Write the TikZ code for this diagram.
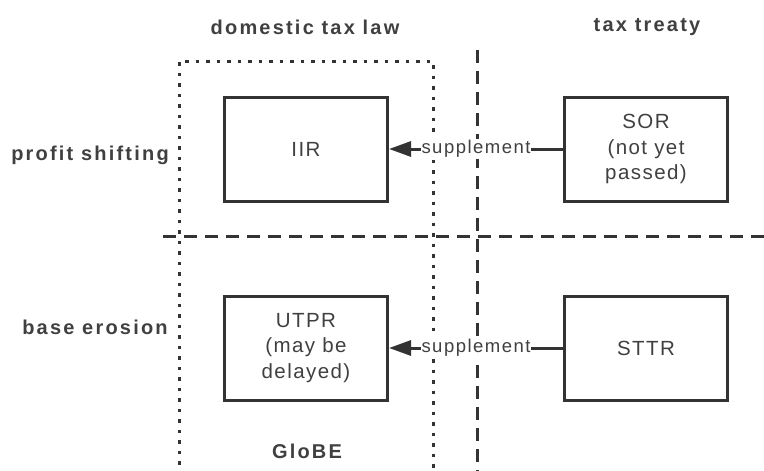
\documentclass[tikz,border=0pt]{standalone}
\usepackage{fontspec}
\setmainfont{Liberation Sans}[LetterSpace=7]
\newfontfamily\hdfont{Liberation Sans}[LetterSpace=11]
\newfontfamily\spfont{Liberation Sans}[LetterSpace=8]
\usetikzlibrary{arrows.meta}
\definecolor{ln}{HTML}{333333}
\definecolor{tx}{HTML}{404040}
\tikzset{
  box/.style={draw=ln, line width=3pt, minimum width=163pt, minimum height=104pt, align=center, text=tx, font=\fontsize{20.5}{25.5}\selectfont, inner sep=0pt},
  head/.style={text=tx, font=\hdfont\fontsize{20}{24}\selectfont\bfseries, inner sep=0pt},
  dottedline/.style={draw=ln, line width=3pt, dash pattern=on 3.5pt off 7pt},
  dashedline/.style={draw=ln, line width=3pt, dash pattern=on 13pt off 8pt},
  supp/.style={draw=ln, line width=3pt, -{Triangle[length=22pt,width=15pt]}},
  supplabel/.style={fill=white, text=tx, font=\spfont\fontsize{18.5}{20}\selectfont, inner sep=1pt}
}
\begin{document}
\begin{tikzpicture}[x=1pt,y=-1pt]
\useasboundingbox (0,0) rectangle (764,471);
% headings
\node[head] (hdom) at (305,27) {domestic tax law};
\node[head] (htreaty) at (647,27) {tax treaty};
\node[head] (hprofit) at (90,155) {profit shifting};
\node[head] (hbase) at (95,327) {base erosion};
\node[head] (hglobe) at (307,451) {GloBE};
% dotted GloBE region
\coordinate (gbl) at (179,475);
\coordinate (gtl) at (179,61);
\coordinate (gtr) at (433,61);
\coordinate (gbr) at (433,475);
\draw[dottedline] (gbl) -- (gtl) -- (gtr) -- (gbr);
% dashed separators
\coordinate (vt) at (477,50);
\coordinate (vb) at (477,475);
\coordinate (hl) at (163,236);
\coordinate (hr) at (768,236);
\draw[dashedline] (vt) -- (vb);
\draw[dashedline] (hl) -- (hr);
% boxes
\node[box] (iir) at (306,149) {IIR};
\node[box] (sor) at (646,149) {SOR\\(not yet\\passed)};
\node[box] (utpr) at (306,348) {UTPR\\(may be\\delayed)};
\node[box] (sttr) at (646,348) {STTR};
% arrows
\draw[supp] (sor.west) -- node[supplabel] (l1) {supplement} (iir.east);
\draw[supp] (sttr.west) -- node[supplabel] (l2) {supplement} (utpr.east);
\end{tikzpicture}
\end{document}
